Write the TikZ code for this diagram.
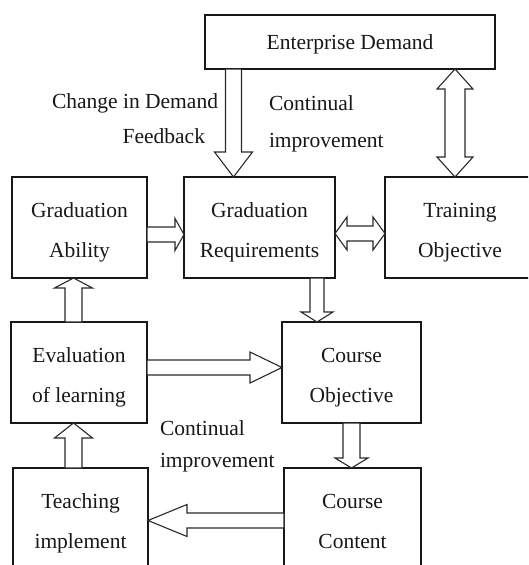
\documentclass[tikz,border=0pt]{standalone}
\usepackage{fontspec}
\setmainfont{Liberation Serif}
\usetikzlibrary{calc}

\definecolor{ink}{HTML}{181818}
\definecolor{edge}{HTML}{2A2A2A}

% struts that lower two-line box texts a little
\newcommand\lnup{\rule{0pt}{25pt}}
\newcommand\lndown{\rule[-5pt]{0pt}{5pt}}

\tikzset{
  box/.style={draw=ink, line width=1.4pt, inner sep=0pt, outer sep=0pt,
    align=center, text=ink, font=\fontsize{21.5}{40}\selectfont},
  note/.style={inner sep=0pt, outer sep=0pt, text=ink,
    font=\fontsize{21.5}{40}\selectfont},
  hollow/.style={draw=edge, line width=1.1pt, line join=miter, fill=white},
}

% outlined block arrow: start, end, shaft half-width, head half-width, head length
\newcommand\hollowarrow[5]{%
  \draw[hollow] let \p1=(#1), \p2=(#2),
    \n1={veclen(\x2-\x1,\y2-\y1)},
    \n2={(\x2-\x1)/\n1}, \n3={(\y2-\y1)/\n1} in
    ({\x1-(\n3)*#3},{\y1+(\n2)*#3})
    -- ({\x2-(\n2)*#5-(\n3)*#3},{\y2-(\n3)*#5+(\n2)*#3})
    -- ({\x2-(\n2)*#5-(\n3)*#4},{\y2-(\n3)*#5+(\n2)*#4})
    -- (\p2)
    -- ({\x2-(\n2)*#5+(\n3)*#4},{\y2-(\n3)*#5-(\n2)*#4})
    -- ({\x2-(\n2)*#5+(\n3)*#3},{\y2-(\n3)*#5-(\n2)*#3})
    -- ({\x1+(\n3)*#3},{\y1-(\n2)*#3}) -- cycle;}

% outlined block arrow with a head at both ends
\newcommand\hollowdouble[5]{%
  \draw[hollow] let \p1=(#1), \p2=(#2),
    \n1={veclen(\x2-\x1,\y2-\y1)},
    \n2={(\x2-\x1)/\n1}, \n3={(\y2-\y1)/\n1} in
    (\p1)
    -- ({\x1+(\n2)*#5-(\n3)*#4},{\y1+(\n3)*#5+(\n2)*#4})
    -- ({\x1+(\n2)*#5-(\n3)*#3},{\y1+(\n3)*#5+(\n2)*#3})
    -- ({\x2-(\n2)*#5-(\n3)*#3},{\y2-(\n3)*#5+(\n2)*#3})
    -- ({\x2-(\n2)*#5-(\n3)*#4},{\y2-(\n3)*#5+(\n2)*#4})
    -- (\p2)
    -- ({\x2-(\n2)*#5+(\n3)*#4},{\y2-(\n3)*#5-(\n2)*#4})
    -- ({\x2-(\n2)*#5+(\n3)*#3},{\y2-(\n3)*#5-(\n2)*#3})
    -- ({\x1+(\n2)*#5+(\n3)*#3},{\y1+(\n3)*#5-(\n2)*#3})
    -- ({\x1+(\n2)*#5+(\n3)*#4},{\y1+(\n3)*#5-(\n2)*#4})
    -- cycle;}

\begin{document}
\begin{tikzpicture}[x=1pt, y=-1pt]
  \useasboundingbox (0,0) rectangle (528,565);
  \fill[white] (0,0) rectangle (528,565);
  \clip (0,0) rectangle (528,565);

  % boxes
  \node[box, minimum width=290pt, minimum height=54pt, text height=20pt, text depth=4.6pt]
    (ent) at (350,42) {Enterprise Demand};
  \node[box, minimum width=135pt, minimum height=101pt] (gabil) at (79.5,227.5)
    {\lnup Graduation\\Ability\lndown};
  \node[box, minimum width=151pt, minimum height=101pt] (greq) at (259.5,227.5)
    {\lnup Graduation\\Requirements\lndown};
  \node[box, minimum width=150pt, minimum height=101pt] (train) at (460,227.5)
    {\lnup Training\\Objective\lndown};
  \node[box, minimum width=136pt, minimum height=101pt] (eval) at (79,372.5)
    {\lnup Evaluation\\of learning\lndown};
  \node[box, minimum width=139pt, minimum height=101pt] (cobj) at (351.5,372.5)
    {\lnup Course\\Objective\lndown};
  \node[box, minimum width=135pt, minimum height=101pt] (teach) at (80.5,518.5)
    {\lnup Teaching\\implement\lndown};
  \node[box, minimum width=137pt, minimum height=101pt] (ccont) at (352.5,518.5)
    {\lnup Course\\Content\lndown};

  % arrow axes
  \coordinate (ax1) at (233.5,0);
  \coordinate (ax2) at (455,0);
  \coordinate (ax5) at (317,0);
  \coordinate (ax6) at (73.5,0);
  \coordinate (ax8) at (351.5,0);
  \coordinate (ay3) at (0,234.5);
  \coordinate (ay4) at (0,233.5);
  \coordinate (ay7) at (0,367.5);
  \coordinate (ay9) at (0,520.5);

  % connectors
  \hollowarrow{ent.south -| ax1}{greq.north -| ax1}{8}{19}{25}
  \hollowdouble{ent.south -| ax2}{train.north -| ax2}{10}{18}{20}
  \hollowarrow{gabil.east |- ay3}{greq.west |- ay3}{7.5}{16}{9}
  \hollowdouble{greq.east |- ay4}{train.west |- ay4}{7.5}{16.5}{12}
  \hollowarrow{greq.south -| ax5}{cobj.north -| ax5}{7}{16}{10}
  \hollowarrow{eval.north -| ax6}{gabil.south -| ax6}{8.5}{19}{10}
  \hollowarrow{eval.east |- ay7}{cobj.west |- ay7}{7.5}{15.5}{32}
  \hollowarrow{cobj.south -| ax8}{ccont.north -| ax8}{8.5}{16.5}{10}
  \hollowarrow{ccont.west |- ay9}{teach.east |- ay9}{7.5}{16}{39}
  \hollowarrow{teach.north -| ax6}{eval.south -| ax6}{8.5}{19}{15}

  % labels
  \node[note, anchor=base east] (chg) at (218,108) {Change in Demand};
  \node[note, anchor=base east] (fb) at (205,143) {Feedback};
  \node[note, anchor=base west] (ci1) at (269,110) {Continual};
  \node[note, anchor=base west] (im1) at (269,147) {improvement};
  \node[note, anchor=base west] (ci2) at (160,435) {Continual};
  \node[note, anchor=base west] (im2) at (160,467) {improvement};
\end{tikzpicture}
\end{document}
